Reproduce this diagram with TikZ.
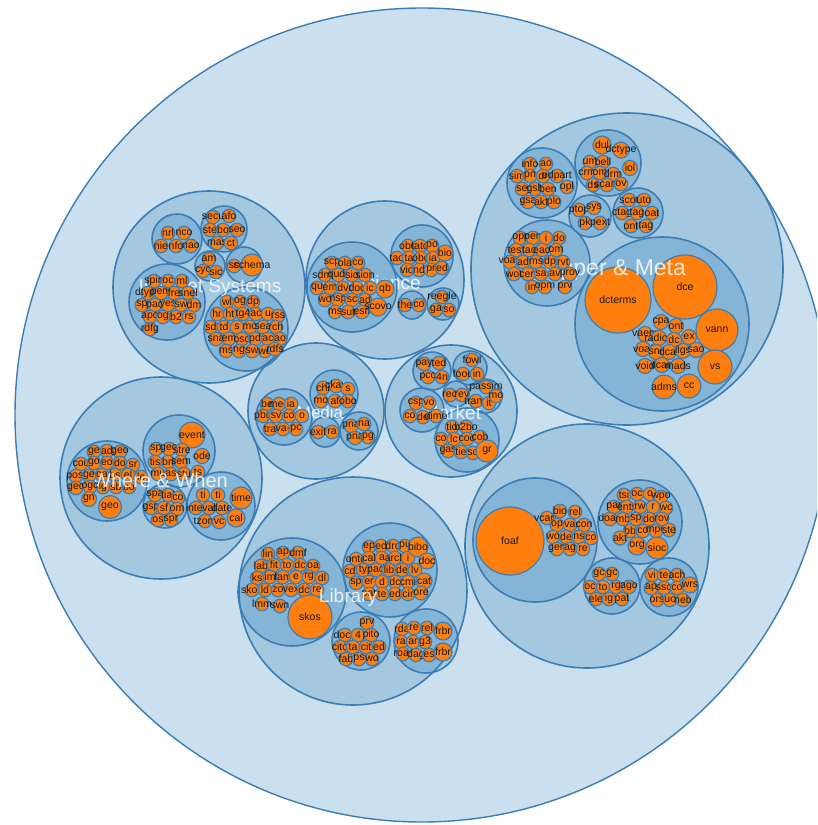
\documentclass[tikz,border=0pt]{standalone}
\usepackage{fontspec}
\setmainfont{Liberation Sans}
\definecolor{packblue}{RGB}{31,119,180}
\definecolor{packline}{RGB}{60,125,180}
\definecolor{packorange}{RGB}{255,127,14}
\begin{document}
\begin{tikzpicture}[x=1pt,y=-1pt,
    blob/.style={circle,draw=packline,line width=1.6pt,fill=packblue,fill opacity=0.23,draw opacity=1,inner sep=0pt,outer sep=0pt},
    leaftext/.style={font=\fontsize{10.5}{10.5}\selectfont,text=black!90,inner sep=0pt},
    leaf/.style={circle,draw=packline,line width=1.2pt,fill=packorange,inner sep=0pt,outer sep=0pt,minimum size=13.5pt,label={[leaftext]center:#1}},
    grouptext/.style={text=white,text opacity=0.8,inner sep=0pt,font=\fontsize{19}{19}\selectfont}]
    \useasboundingbox (0,0) rectangle (817,825);
    \clip (0,0) rectangle (817,825);
    % whole pack
    \node[blob,line width=1.4pt,minimum size=814pt] (all) at (422,415) {};
    % spaces
    \node[blob,minimum size=192pt] (sys) at (209,287) {};
    \node[blob,minimum size=158pt] (sci) at (385,280) {};
    \node[blob,minimum size=312pt] (upm) at (627,269) {};
    \node[blob,minimum size=136pt] (med) at (316,411) {};
    \node[blob,minimum size=132pt] (mkt) at (451,411) {};
    \node[blob,minimum size=202pt] (www) at (161,478) {};
    \node[blob,minimum size=228pt] (lib) at (353,591) {};
    \node[blob,minimum size=244pt] (soc) at (587,546) {};
    % vocabulary groups
    \foreach \n/\x/\y/\r in {sysA/177/239/25,sysB/224/229/23,sysC/210/266/15,sysD/244/265/18,sysE/167/302/38,sysF/246/329/42,
        sciA/352/287/45,sciB/422/256/31,sciC/412/305/14,sciD/443/304/16,
        upmA/542/183/35,upmB/608/163/33,upmC/590/216/21,upmD/638/213/25,upmE/547/263/43,upmF/662/324/87,
        medA/284/417/28,medB/334/394/24,medC/325/432/15,medD/359/431/19,
        mktA/432/371/19,mktB/470/368/17,mktC/456/394/13,mktD/485/396/17,mktE/422/410/22,mktF/467/440/32,
        wwwA/107/481/40,wwwB/179/451/36,wwwC/165/506/22,wwwD/221/506/34,
        libA/292/592/54,libB/390/570/47,libC/361/641/29,libD/426/641/32,
        socA/535/540/62,socB/640/522/42,socC/612/586/28,socD/669/587/29}
        \node[blob,minimum size=2*\r pt] (\n) at (\x,\y) {};
    % space names under the vocabularies
    \node[grouptext] (sysname) at (210,288) {Internet Systems};
    \node[grouptext] (sciname) at (387,283) {Science};
    \node[grouptext,font=\fontsize{17}{17}\selectfont] (medname) at (320,412) {Media};
    \node[grouptext] (mktname) at (452,413) {Market};
    % vocabularies
    \foreach \x/\y/\t [count=\i] in {168/233/nrl,184/233/nco,161/246/nie,176/246/nfo,191/246/nao}
        \node[leaf=\t] (sysA-\i) at (\x,\y) {};
    \foreach \x/\y/\t [count=\i] in {213/217/secu,229/216/afo,210/230/ste,223/230/bo,237/230/seo,217/243/mas,231/243/ct}
        \node[leaf=\t] (sysB-\i) at (\x,\y) {};
    \foreach \x/\y/\t [count=\i] in {209/259/am,203/271/cyc,216/272/sic}
        \node[leaf=\t] (sysC-\i) at (\x,\y) {};
    \node[leaf=sc] (sc) at (234,266) {};
    \node[leaf=schema,minimum size=22pt] (schema) at (252,265) {};
    \foreach \x/\y/\t [count=\i] in {154/281/spin,168/281/oc,182/281/ml,148/293/dtype,161/293/pem,174/293/fre,188/293/snel,
        142/305/sp,155/305/pad,168/305/yes,181/305/sw,194/305/dm,150/317/apo,163/317/og,176/317/b2,189/317/rs,150/329/rdfg}
        \node[leaf=\t] (sysE-\i) at (\x,\y) {};
    \foreach \x/\y/\t [count=\i] in {227/302/wl,240/302/og,253/302/dp,217/314/hr,230/314/ht,243/314/tg4,256/314/ac,268/314/u,278/316/rss,
        211/327/sd,224/327/td,237/327/s,250/327/mo,263/327/sea,276/327/rch,216/339/sna,229/339/em,242/339/osd,255/339/pd,268/339/ac,280/339/ao,
        226/351/ms,239/351/ng,252/351/sw,265/351/wd,275/349/rdfs}
        \node[leaf=\t] (sysF-\i) at (\x,\y) {};
    \foreach \x/\y/\t [count=\i] in {332/263/scp,345/263/ola,358/263/co,325/275/sdmx,338/275/qudt,352/275/sio,365/275/sion,
        317/288/qu,330/288/em,343/288/dv,357/288/doc,370/288/ic,325/300/wo,338/300/nsp,352/300/sc,365/300/ad,335/312/ms,348/312/sut,362/312/esn}
        \node[leaf=\t] (sciA-\i) at (\x,\y) {};
    \node[leaf=qb,minimum size=18pt] (qb) at (385,289) {};
    \node[leaf=scovo,minimum size=18pt] (scovo) at (378,307) {};
    \foreach \x/\y/\t [count=\i] in {408/246/obo,420/246/tato,432/246/po,397/258/tao,409/258/ta,421/258/obo,433/258/ia,
        407/270/vio,419/270/nd,431/270/pr,442/268/ed}
        \node[leaf=\t] (sciB-\i) at (\x,\y) {};
    \node[leaf=bio,minimum size=16pt] (bio) at (445,253) {};
    \foreach \x/\y/\t [count=\i] in {405/305/the,419/305/co}
        \node[leaf=\t] (sciC-\i) at (\x,\y) {};
    \foreach \x/\y/\t [count=\i] in {442/297/reegle,436/310/ga,449/310/so}
        \node[leaf=\t] (sciD-\i) at (\x,\y) {};
    \foreach \x/\y/\t [count=\i] in {530/164/info,546/164/ao,517/176/sim,530/176/pn,543/176/dr,557/176/odpart,
        522/189/se,535/189/gsb,548/189/ben,567/187/opl,528/202/gsa,541/202/akt,554/202/plo}
        \node[leaf=\t] (upmA-\i) at (\x,\y) {};
    \node[leaf=dul,minimum size=18pt] (dul) at (602,145) {};
    \node[leaf=dctype,minimum size=16pt] (dctype) at (621,150) {};
    \node[leaf=iol,minimum size=15pt] (iol) at (630,168) {};
    \foreach \x/\y/\t [count=\i] in {590/162/um,603/162/bell,587/173/crm,600/173/om,613/174/drm,593/185/ds,607/185/scam,621/184/ov}
        \node[leaf=\t] (upmB-\i) at (\x,\y) {};
    \foreach \x/\y/\t [count=\i] in {579/210/ptop,594/208/sys,585/223/pk,600/223/pext}
        \node[leaf=\t] (upmC-\i) at (\x,\y) {};
    \foreach \x/\y/\t [count=\i] in {629/200/scot,644/200/uto,622/213/ctag,637/213/tag,652/213/oat,631/226/ont,646/226/tag}
        \node[leaf=\t] (upmD-\i) at (\x,\y) {};
    \node[leaf=dcterms,minimum size=66pt] (dcterms) at (618,300) {};
    \node[leaf=dce,minimum size=64pt] (dce) at (685,287) {};
    \node[leaf=vann,minimum size=42pt] (vann) at (717,330) {};
    \node[leaf=vs,minimum size=34pt] (vs) at (715,367) {};
    \node[leaf=cc,minimum size=24pt] (cc) at (689,386) {};
    \node[leaf=adms,minimum size=24pt] (adms) at (664,387) {};
    \foreach \x/\y/\t [count=\i] in {661/322/cpa,676/326/ont,645/334/vaem,659/338/radion,674/340/dc,689/337/ex,643/349/voaf,
        656/352/snr,669/352/dcat,683/351/ilgs,696/350/sao,645/366/void,662/365/ilcan,678/366/mads}
        \node[leaf=\t,minimum size=15pt] (upmF-\i) at (\x,\y) {};
    \node[grouptext,font=\fontsize{23}{23}\selectfont] (upmname) at (615,270) {Upper \& Meta};
    \foreach \x/\y/\t [count=\i] in {520/238/opr,533/238/pen,546/238/i,559/238/do,516/250/test,529/250/tac,542/250/ead,556/250/om,
        510/262/voag,523/262/ad,536/262/ms,550/262/dp,563/262/rvt,514/274/wot,528/274/cert,541/274/sa,555/274/av,570/274/prov,
        532/287/in,545/287/opm,565/287/prv}
        \node[leaf=\t] (upmE-\i) at (\x,\y) {};
    \foreach \x/\y/\t [count=\i] in {267/404/be,279/404/med,291/404/ia,263/416/pbu,276/416/sv,289/416/co,302/416/o,
        270/429/tra,283/429/va-,296/429/pc}
        \node[leaf=\t] (medA-\i) at (\x,\y) {};
    \foreach \x/\y/\t [count=\i] in {323/388/chi,336/386/ckay,348/389/s,321/401/mo,335/401/af,348/401/obo}
        \node[leaf=\t] (medB-\i) at (\x,\y) {};
    \foreach \x/\y/\t [count=\i] in {318/432/exif,332/432/ra}
        \node[leaf=\t] (medC-\i) at (\x,\y) {};
    \foreach \x/\y/\t [count=\i] in {351/426/pna,364/424/na,355/438/pna,368/437/pg}
        \node[leaf=\t] (medD-\i) at (\x,\y) {};
    \foreach \x/\y/\t [count=\i] in {424/364/pay,439/363/ted,428/377/pco,442/377/4n}
        \node[leaf=\t] (mktA-\i) at (\x,\y) {};
    \foreach \x/\y/\t [count=\i] in {472/360/fowl,463/374/food,477/374/in}
        \node[leaf=\t] (mktB-\i) at (\x,\y) {};
    \foreach \x/\y/\t [count=\i] in {450/395/reo,462/395/rev}
        \node[leaf=\t] (mktC-\i) at (\x,\y) {};
    \foreach \x/\y/\t [count=\i] in {486/387/passim,476/401/trans,489/403/it,496/396/mo}
        \node[leaf=\t] (mktD-\i) at (\x,\y) {};
    \foreach \x/\y/\t [count=\i] in {416/403/csp,429/403/vo,410/416/co,423/417/de,436/416/dimo}
        \node[leaf=\t] (mktE-\i) at (\x,\y) {};
    \foreach \x/\y/\t [count=\i] in {452/427/tio,466/427/b2bo,441/439/co,454/439/lc,467/439/coo,480/437/cob,448/451/gas,461/452/tie,473/453/so}
        \node[leaf=\t] (mktF-\i) at (\x,\y) {};
    \node[leaf=gr,minimum size=22pt] (gr) at (487,451) {};
    \node[leaf=event,minimum size=26pt] (event) at (192,435) {};
    \node[leaf=ode,minimum size=15pt] (ode) at (202,456) {};
    \foreach \x/\y/\t [count=\i] in {156/449/sp,169/449/geo,182/450/stre,155/462/tis,168/462/bri,181/462/sem,
        158/474/mu,171/474/as,184/474/stu,198/472/ts}
        \node[leaf=\t] (wwwB-\i) at (\x,\y) {};
    \foreach \x/\y/\t [count=\i] in {155/495/spa,168/495/tial,178/498/co,151/508/gsp,164/508/sf,177/509/om,158/520/os,171/520/spr}
        \node[leaf=\t] (wwwC-\i) at (\x,\y) {};
    \foreach \x/\y/\t [count=\i] in {203/495/ti,218/495/ti,196/508/inter,209/508/val,222/508/date,205/521/tzont,219/522/vc}
        \node[leaf=\t] (wwwD-\i) at (\x,\y) {};
    \node[leaf=time,minimum size=22pt] (time) at (241,498) {};
    \node[leaf=cal,minimum size=18pt] (cal) at (236,518) {};
    \foreach \x/\y/\t [count=\i] in {94/452/ge,107/451/ad,120/452/geo,81/464/cou,94/463/go,107/463/eo,120/463/do,133/465/sr,
        102/475/oa,115/475/bs,128/475/el,141/477/lc,103/487/lg,116/487/sb,129/487/bo}
        \node[leaf=\t] (wwwA-\i) at (\x,\y) {};
    \node[grouptext,font=\fontsize{20}{20}\selectfont] (wwwname) at (160,480) {Where \& When};
    \foreach \x/\y/\t [count=\i] in {76/476/posi,89/476/ge,76/488/geo,90/487/ogc}
        \node[leaf=\t] (wwwA-edge-\i) at (\x,\y) {};
    \node[leaf=gn,minimum size=15pt] (gn) at (89,499) {};
    \node[leaf=geo,minimum size=23pt] (geo) at (110,507) {};
    \foreach \x/\y/\t [count=\i] in {268/554/lin,283/553/ap,298/553/dmf,261/566/lab,274/565/fit,287/565/to,300/565/dc,313/566/oa,
        257/578/ks,270/577/im,283/577/fam,296/577/e,309/577/rg,322/578/dl,252/590/skos,265/590/ld,278/590/zo,291/590/vex,304/590/dc,317/590/re,
        262/604/lmm,280/606/swn}
        \node[leaf=\t] (libA-\i) at (\x,\y) {};
    \node[leaf=skos,minimum size=44pt] (skos) at (310,617) {};
    \foreach \x/\y/\t [count=\i] in {369/547/ep,381/546/ed,393/546/dro,405/546/pu,356/559/onto,369/558/cal,382/558/a,395/558/arch,408/558/i,
        350/571/cd,363/570/ty,376/570/pad,389/570/lib,402/570/de,415/570/lv,356/583/sp,369/582/er,382/582/d,395/582/dc,408/582/cmi,
        369/594/pat,382/594/te,395/594/ed,408/594/cir}
        \node[leaf=\t] (libB-\i) at (\x,\y) {};
    \node[leaf=bibo,minimum size=20pt] (bibo) at (418,547) {};
    \node[leaf=doc,minimum size=16pt] (doc) at (427,561) {};
    \node[leaf=cat,minimum size=16pt] (cat) at (424,581) {};
    \node[leaf=ore,minimum size=14pt] (ore) at (421,593) {};
    \foreach \x/\y/\t [count=\i] in {367/623/prv,345/635/doco,358/635/4,371/635/pito,340/647/cito,353/647/ta,366/647/cit,379/647/ed,
        346/659/fab,359/659/ps,372/659/wo}
        \node[leaf=\t] (libC-\i) at (\x,\y) {};
    \foreach \x/\y/\t [count=\i] in {402/629/rda,414/628/re,427/628/rel,401/642/ra,413/642/ar,425/642/g3,403/654/roar,416/655/dag,429/655/es}
        \node[leaf=\t] (libD-\i) at (\x,\y) {};
    \node[leaf=frbr,minimum size=18pt] (frbr) at (443,631) {};
    \node[leaf=frbr,minimum size=18pt] (frbr2) at (443,652) {};
    \node[grouptext] (libname) at (348,598) {Library};
    \node[leaf=foaf,minimum size=68pt] (foaf) at (510,541) {};
    \foreach \x/\y/\t [count=\i] in {547/518/vcard,560/511/bio,575/512/rel,557/525/op,570/525/va,584/525/con,
        553/537/wo,566/537/de,579/537/ns,591/538/co,557/549/gen,570/549/ag,583/549/re}
        \node[leaf=\t] (socA-\i) at (\x,\y) {};
    \foreach \x/\y/\t [count=\i] in {624/495/tsi,637/494/oc,650/494/o,661/497/wpo,614/507/par,627/507/ents,640/507/rw,653/507/r,666/508/wc,
        610/519/doap,623/519/mb,636/519/sp,649/519/do,662/519/rov,630/531/bb,643/531/co,656/531/mpo,669/530/ste}
        \node[leaf=\t] (socB-\i) at (\x,\y) {};
    \node[leaf=akt,minimum size=14pt] (akt) at (620,538) {};
    \node[leaf=org,minimum size=18pt] (org) at (637,546) {};
    \node[leaf=sioc,minimum size=22pt] (sioc) at (657,548) {};
    \foreach \x/\y/\t [count=\i] in {599/574/gc,612/574/gc,590/587/oc,603/587/to,616/587/rg,629/587/ago,596/599/ele,609/599/ig,622/599/pat}
        \node[leaf=\t] (socC-\i) at (\x,\y) {};
    \foreach \x/\y/\t [count=\i] in {652/575/vi,664/575/te,677/575/ach,651/588/ap,664/588/sso,677/588/co,657/600/ors,670/600/uc,683/600/neb}
        \node[leaf=\t] (socD-\i) at (\x,\y) {};
    \node[leaf=wrs,minimum size=16pt] (wrs) at (690,585) {};
\end{tikzpicture}
\end{document}
